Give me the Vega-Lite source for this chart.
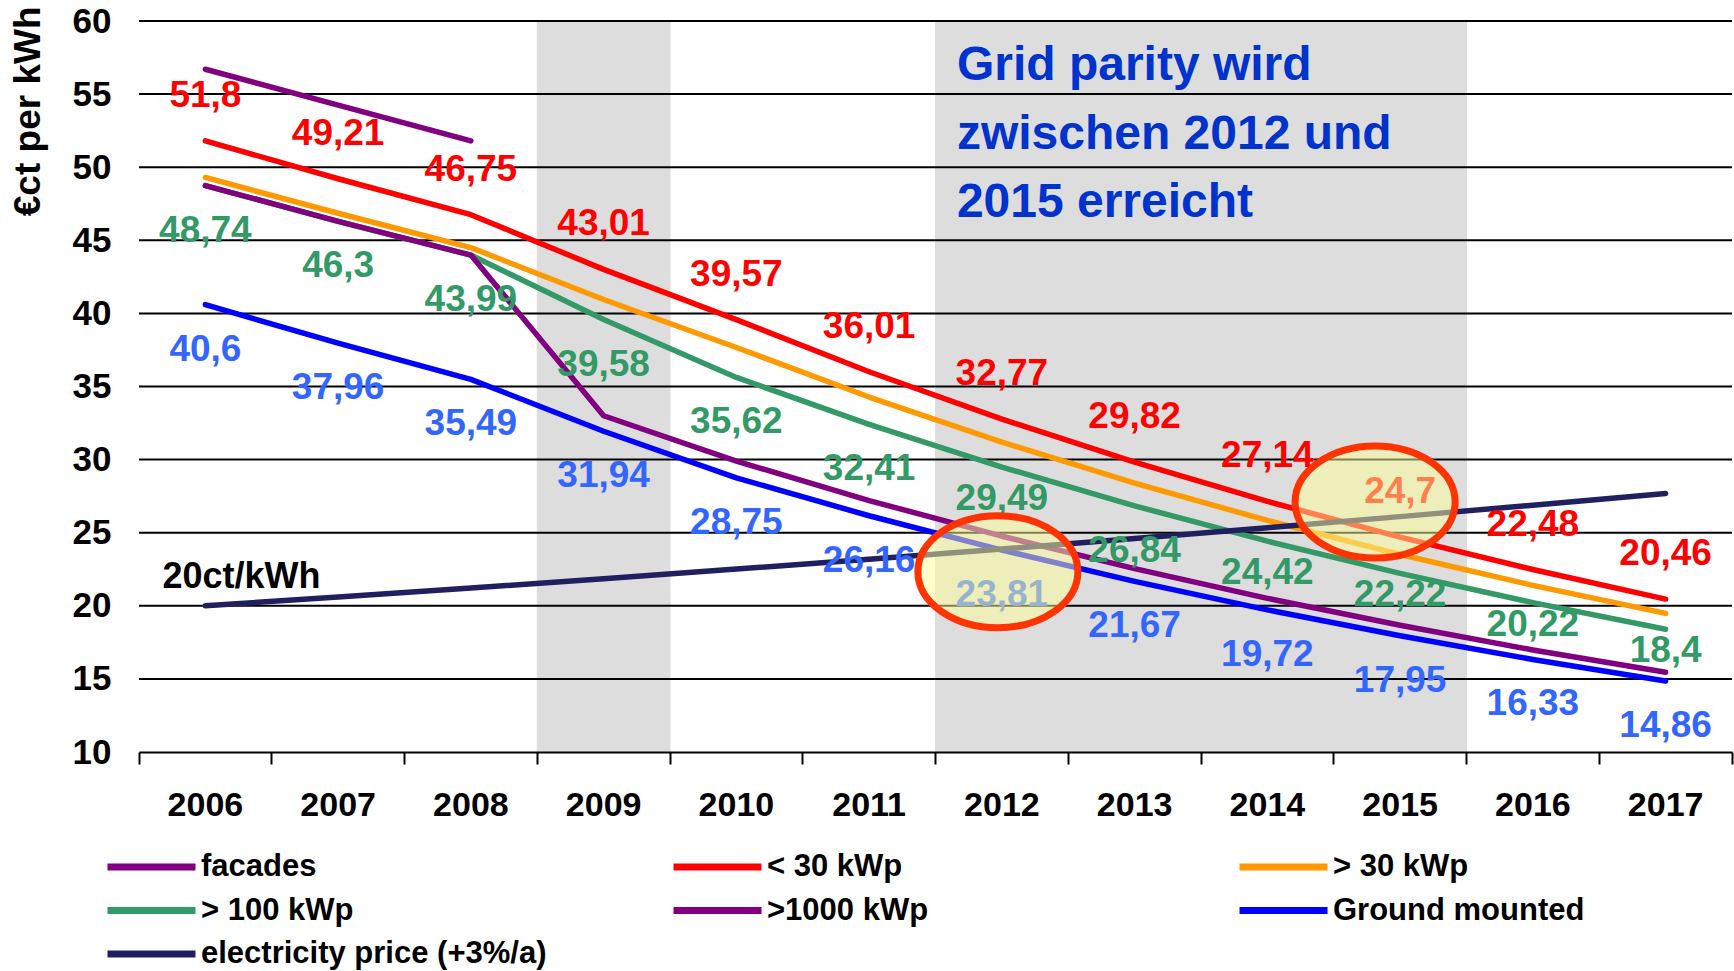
{
  "$schema": "https://vega.github.io/schema/vega-lite/v6.json",
  "width": 1593,
  "height": 731,
  "autosize": {"type": "none"},
  "padding": {"left": 139, "top": 21, "right": 2, "bottom": 219},
  "background": "white",
  "config": {
    "view": {"stroke": null},
    "font": "Liberation Sans",
    "locale": {"number": {"decimal": ",", "thousands": ".", "grouping": [3], "currency": ["", " €"]}},
    "axisX": {
      "bandPosition": 1, "tickExtra": true, "ticks": true, "tickSize": 12, "tickColor": "#000000", "tickWidth": 2,
      "domain": true, "domainColor": "#000000", "domainWidth": 2, "grid": false,
      "labelFont": "Liberation Sans", "labelFontSize": 34, "labelFontWeight": "bold", "labelColor": "#000000",
      "labelAngle": 0, "labelBaseline": "middle", "labelPadding": 41, "labelOverlap": false
    },
    "axisY": {
      "ticks": false, "domain": false, "grid": false, "tickCount": 10,
      "labelFont": "Liberation Sans", "labelFontSize": 35, "labelFontWeight": "bold", "labelColor": "#000000", "labelPadding": 28,
      "titleFont": "Liberation Sans", "titleFontSize": 37, "titleFontWeight": "bold", "titleColor": "#000000",
      "titleAngle": -90, "titleAlign": "right", "titleBaseline": "middle", "titleX": -111, "titleY": -15
    }
  },
  "datasets": {
    "lines": [
      {"year": "2006", "series": "facades", "value": 56.7},
      {"year": "2007", "series": "facades", "value": 54.25},
      {"year": "2008", "series": "facades", "value": 51.8},
      {"year": "2006", "series": "< 30 kWp", "value": 51.8},
      {"year": "2007", "series": "< 30 kWp", "value": 49.21},
      {"year": "2008", "series": "< 30 kWp", "value": 46.75},
      {"year": "2009", "series": "< 30 kWp", "value": 43.01},
      {"year": "2010", "series": "< 30 kWp", "value": 39.57},
      {"year": "2011", "series": "< 30 kWp", "value": 36.01},
      {"year": "2012", "series": "< 30 kWp", "value": 32.77},
      {"year": "2013", "series": "< 30 kWp", "value": 29.82},
      {"year": "2014", "series": "< 30 kWp", "value": 27.14},
      {"year": "2015", "series": "< 30 kWp", "value": 24.7},
      {"year": "2016", "series": "< 30 kWp", "value": 22.48},
      {"year": "2017", "series": "< 30 kWp", "value": 20.46},
      {"year": "2006", "series": "> 30 kWp", "value": 49.3},
      {"year": "2007", "series": "> 30 kWp", "value": 46.85},
      {"year": "2008", "series": "> 30 kWp", "value": 44.5},
      {"year": "2009", "series": "> 30 kWp", "value": 40.95},
      {"year": "2010", "series": "> 30 kWp", "value": 37.67},
      {"year": "2011", "series": "> 30 kWp", "value": 34.28},
      {"year": "2012", "series": "> 30 kWp", "value": 31.2},
      {"year": "2013", "series": "> 30 kWp", "value": 28.39},
      {"year": "2014", "series": "> 30 kWp", "value": 25.84},
      {"year": "2015", "series": "> 30 kWp", "value": 23.51},
      {"year": "2016", "series": "> 30 kWp", "value": 21.4},
      {"year": "2017", "series": "> 30 kWp", "value": 19.48},
      {"year": "2006", "series": "> 100 kWp", "value": 48.74},
      {"year": "2007", "series": "> 100 kWp", "value": 46.3},
      {"year": "2008", "series": "> 100 kWp", "value": 43.99},
      {"year": "2009", "series": "> 100 kWp", "value": 39.58},
      {"year": "2010", "series": "> 100 kWp", "value": 35.62},
      {"year": "2011", "series": "> 100 kWp", "value": 32.41},
      {"year": "2012", "series": "> 100 kWp", "value": 29.49},
      {"year": "2013", "series": "> 100 kWp", "value": 26.84},
      {"year": "2014", "series": "> 100 kWp", "value": 24.42},
      {"year": "2015", "series": "> 100 kWp", "value": 22.22},
      {"year": "2016", "series": "> 100 kWp", "value": 20.22},
      {"year": "2017", "series": "> 100 kWp", "value": 18.4},
      {"year": "2006", "series": ">1000 kWp", "value": 48.74},
      {"year": "2007", "series": ">1000 kWp", "value": 46.3},
      {"year": "2008", "series": ">1000 kWp", "value": 43.99},
      {"year": "2009", "series": ">1000 kWp", "value": 33.0},
      {"year": "2010", "series": ">1000 kWp", "value": 29.9},
      {"year": "2011", "series": ">1000 kWp", "value": 27.2},
      {"year": "2012", "series": ">1000 kWp", "value": 24.76},
      {"year": "2013", "series": ">1000 kWp", "value": 22.54},
      {"year": "2014", "series": ">1000 kWp", "value": 20.51},
      {"year": "2015", "series": ">1000 kWp", "value": 18.67},
      {"year": "2016", "series": ">1000 kWp", "value": 16.98},
      {"year": "2017", "series": ">1000 kWp", "value": 15.45},
      {"year": "2006", "series": "Ground mounted", "value": 40.6},
      {"year": "2007", "series": "Ground mounted", "value": 37.96},
      {"year": "2008", "series": "Ground mounted", "value": 35.49},
      {"year": "2009", "series": "Ground mounted", "value": 31.94},
      {"year": "2010", "series": "Ground mounted", "value": 28.75},
      {"year": "2011", "series": "Ground mounted", "value": 26.16},
      {"year": "2012", "series": "Ground mounted", "value": 23.81},
      {"year": "2013", "series": "Ground mounted", "value": 21.67},
      {"year": "2014", "series": "Ground mounted", "value": 19.72},
      {"year": "2015", "series": "Ground mounted", "value": 17.95},
      {"year": "2016", "series": "Ground mounted", "value": 16.33},
      {"year": "2017", "series": "Ground mounted", "value": 14.86},
      {"year": "2006", "series": "electricity price (+3%/a)", "value": 20.0},
      {"year": "2007", "series": "electricity price (+3%/a)", "value": 20.6},
      {"year": "2008", "series": "electricity price (+3%/a)", "value": 21.22},
      {"year": "2009", "series": "electricity price (+3%/a)", "value": 21.85},
      {"year": "2010", "series": "electricity price (+3%/a)", "value": 22.51},
      {"year": "2011", "series": "electricity price (+3%/a)", "value": 23.19},
      {"year": "2012", "series": "electricity price (+3%/a)", "value": 23.88},
      {"year": "2013", "series": "electricity price (+3%/a)", "value": 24.6},
      {"year": "2014", "series": "electricity price (+3%/a)", "value": 25.34},
      {"year": "2015", "series": "electricity price (+3%/a)", "value": 26.1},
      {"year": "2016", "series": "electricity price (+3%/a)", "value": 26.88},
      {"year": "2017", "series": "electricity price (+3%/a)", "value": 27.68}
    ]
  },
  "layer": [
    {
      "data": {"values": [{"year": "2009"}, {"year": "2012"}, {"year": "2013"}, {"year": "2014"}, {"year": "2015"}]},
      "mark": {"type": "rect", "fill": "#DDDDDD", "stroke": "#DDDDDD", "strokeWidth": 1},
      "encoding": {
        "x": {"field": "year", "type": "ordinal", "title": null, "scale": {"type": "band", "paddingInner": 0, "paddingOuter": 0, "domain": ["2006","2007","2008","2009","2010","2011","2012","2013","2014","2015","2016","2017"]}},
        "y": {"datum": 60, "type": "quantitative", "title": "€ct per kWh", "scale": {"domain": [10, 60], "nice": false, "zero": false}},
        "y2": {"datum": 10}
      }
    },
    {
      "data": {"values": [{"value": 15}, {"value": 20}, {"value": 25}, {"value": 30}, {"value": 35}, {"value": 40}, {"value": 45}, {"value": 50}, {"value": 55}, {"value": 60}]},
      "mark": {"type": "rule", "color": "#000000", "strokeWidth": 2},
      "encoding": {
        "y": {"field": "value", "type": "quantitative", "title": "€ct per kWh", "scale": {"domain": [10, 60], "nice": false, "zero": false}}
      }
    },
    {
      "data": {"name": "lines"},
      "mark": {"type": "line", "strokeWidth": 5.5, "strokeJoin": "round", "strokeCap": "round"},
      "encoding": {
        "x": {"field": "year", "type": "ordinal", "title": null, "scale": {"type": "band", "paddingInner": 0, "paddingOuter": 0}},
        "y": {"field": "value", "type": "quantitative", "title": "€ct per kWh", "scale": {"domain": [10, 60], "nice": false, "zero": false}},
        "color": {
          "field": "series", "type": "nominal",
          "scale": {
            "domain": ["facades", "< 30 kWp", "> 30 kWp", "> 100 kWp", ">1000 kWp", "Ground mounted", "electricity price (+3%/a)"],
            "range": ["#800080", "#FF0000", "#FF9900", "#339966", "#800080", "#0000FF", "#202060"]
          },
          "legend": {
            "orient": "none", "legendX": -35, "legendY": 830, "title": null, "columns": 3, "direction": "horizontal",
            "gridAlign": "all", "columnPadding": 123, "rowPadding": 11.5, "padding": 0, "clipHeight": 32,
            "symbolType": "stroke", "symbolSize": 7744, "symbolStrokeWidth": 7, "symbolOffset": 0,
            "labelFont": "Liberation Sans", "labelFontSize": 31, "labelFontWeight": "bold", "labelColor": "#000000",
            "labelLimit": 600, "labelOffset": 2
          }
        },
        "order": {"value": 0}
      }
    },
    {
      "data": {"name": "lines"},
      "transform": [{"filter": {"field": "series", "equal": "< 30 kWp"}}],
      "mark": {"type": "text", "font": "Liberation Sans", "fontSize": 37, "fontWeight": "bold", "fill": "#FF0000", "dy": -45, "baseline": "middle", "align": "center"},
      "encoding": {
        "x": {"field": "year", "type": "ordinal", "title": null, "scale": {"type": "band", "paddingInner": 0, "paddingOuter": 0}},
        "y": {"field": "value", "type": "quantitative", "title": "€ct per kWh", "scale": {"domain": [10, 60], "nice": false, "zero": false}},
        "text": {"field": "value", "type": "quantitative", "format": ".4~r"}
      }
    },
    {
      "data": {"name": "lines"},
      "transform": [{"filter": {"field": "series", "equal": "> 100 kWp"}}, {"filter": {"field": "year", "oneOf": ["2006","2007","2008","2009","2010","2011","2013"]}}],
      "mark": {"type": "text", "font": "Liberation Sans", "fontSize": 37, "fontWeight": "bold", "fill": "#339966", "dy": 45, "baseline": "middle", "align": "center"},
      "encoding": {
        "x": {"field": "year", "type": "ordinal", "title": null, "scale": {"type": "band", "paddingInner": 0, "paddingOuter": 0}},
        "y": {"field": "value", "type": "quantitative", "title": "€ct per kWh", "scale": {"domain": [10, 60], "nice": false, "zero": false}},
        "text": {"field": "value", "type": "quantitative", "format": ".4~r"}
      }
    },
    {
      "data": {"name": "lines"},
      "transform": [{"filter": {"field": "series", "equal": "> 100 kWp"}}, {"filter": {"field": "year", "oneOf": ["2012","2014"]}}],
      "mark": {"type": "text", "font": "Liberation Sans", "fontSize": 37, "fontWeight": "bold", "fill": "#339966", "dy": 32, "baseline": "middle", "align": "center"},
      "encoding": {
        "x": {"field": "year", "type": "ordinal", "title": null, "scale": {"type": "band", "paddingInner": 0, "paddingOuter": 0}},
        "y": {"field": "value", "type": "quantitative", "title": "€ct per kWh", "scale": {"domain": [10, 60], "nice": false, "zero": false}},
        "text": {"field": "value", "type": "quantitative", "format": ".4~r"}
      }
    },
    {
      "data": {"name": "lines"},
      "transform": [{"filter": {"field": "series", "equal": "> 100 kWp"}}, {"filter": {"field": "year", "oneOf": ["2015","2016","2017"]}}],
      "mark": {"type": "text", "font": "Liberation Sans", "fontSize": 37, "fontWeight": "bold", "fill": "#339966", "dy": 22, "baseline": "middle", "align": "center"},
      "encoding": {
        "x": {"field": "year", "type": "ordinal", "title": null, "scale": {"type": "band", "paddingInner": 0, "paddingOuter": 0}},
        "y": {"field": "value", "type": "quantitative", "title": "€ct per kWh", "scale": {"domain": [10, 60], "nice": false, "zero": false}},
        "text": {"field": "value", "type": "quantitative", "format": ".4~r"}
      }
    },
    {
      "data": {"name": "lines"},
      "transform": [{"filter": {"field": "series", "equal": "Ground mounted"}}],
      "mark": {"type": "text", "font": "Liberation Sans", "fontSize": 37, "fontWeight": "bold", "fill": "#3366FF", "dy": 45, "baseline": "middle", "align": "center"},
      "encoding": {
        "x": {"field": "year", "type": "ordinal", "title": null, "scale": {"type": "band", "paddingInner": 0, "paddingOuter": 0}},
        "y": {"field": "value", "type": "quantitative", "title": "€ct per kWh", "scale": {"domain": [10, 60], "nice": false, "zero": false}},
        "text": {"field": "value", "type": "quantitative", "format": ".4~r"}
      }
    },
    {
      "data": {"values": [
        {"year": "2012", "value": 56.9, "label": "Grid parity wird"},
        {"year": "2012", "value": 52.2, "label": "zwischen 2012 und"},
        {"year": "2012", "value": 47.52, "label": "2015 erreicht"}
      ]},
      "mark": {"type": "text", "font": "Liberation Sans", "fontSize": 48, "fontWeight": "bold", "fill": "#0033CC", "dx": -45, "baseline": "middle", "align": "left"},
      "encoding": {
        "x": {"field": "year", "type": "ordinal", "title": null, "scale": {"type": "band", "paddingInner": 0, "paddingOuter": 0}},
        "y": {"field": "value", "type": "quantitative", "title": "€ct per kWh", "scale": {"domain": [10, 60], "nice": false, "zero": false}},
        "text": {"field": "label", "type": "nominal"}
      }
    },
    {
      "data": {"values": [{"year": "2006", "value": 21.97, "label": "20ct/kWh"}]},
      "mark": {"type": "text", "font": "Liberation Sans", "fontSize": 36, "fontWeight": "bold", "fill": "#000000", "dx": -43, "baseline": "middle", "align": "left"},
      "encoding": {
        "x": {"field": "year", "type": "ordinal", "title": null, "scale": {"type": "band", "paddingInner": 0, "paddingOuter": 0}},
        "y": {"field": "value", "type": "quantitative", "title": "€ct per kWh", "scale": {"domain": [10, 60], "nice": false, "zero": false}},
        "text": {"field": "label", "type": "nominal"}
      }
    },
    {
      "data": {"values": [{"year": "2012", "value": 22.33}]},
      "mark": {"type": "point", "shape": "M -1 0 A 1 0.7 0 1 1 1 0 A 1 0.7 0 1 1 -1 0 Z", "size": 25600, "filled": true, "fill": "#FFFF99", "fillOpacity": 0.5, "stroke": "#FF3300", "strokeWidth": 7, "strokeOpacity": 1, "opacity": 1, "xOffset": -4},
      "encoding": {
        "x": {"field": "year", "type": "ordinal", "title": null, "scale": {"type": "band", "paddingInner": 0, "paddingOuter": 0}},
        "y": {"field": "value", "type": "quantitative", "title": "€ct per kWh", "scale": {"domain": [10, 60], "nice": false, "zero": false}}
      }
    },
    {
      "data": {"values": [{"year": "2015", "value": 27.1}]},
      "mark": {"type": "point", "shape": "M -1 0 A 1 0.7 0 1 1 1 0 A 1 0.7 0 1 1 -1 0 Z", "size": 25600, "filled": true, "fill": "#FFFF99", "fillOpacity": 0.5, "stroke": "#FF3300", "strokeWidth": 7, "strokeOpacity": 1, "opacity": 1, "xOffset": -25},
      "encoding": {
        "x": {"field": "year", "type": "ordinal", "title": null, "scale": {"type": "band", "paddingInner": 0, "paddingOuter": 0}},
        "y": {"field": "value", "type": "quantitative", "title": "€ct per kWh", "scale": {"domain": [10, 60], "nice": false, "zero": false}}
      }
    }
  ]
}
